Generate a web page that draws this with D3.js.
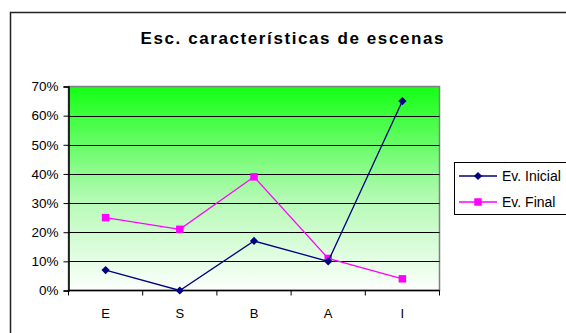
<!DOCTYPE html>
<html>
<head>
<meta charset="utf-8">
<script src="https://cdn.jsdelivr.net/npm/d3@7"></script>
<style>
  html, body { margin: 0; padding: 0; background: #fff; }
  svg { display: block; font-family: "Liberation Sans", Arial, sans-serif; }
</style>
</head>
<body>
<svg id="chart" width="566" height="333"></svg>
<script>
// Chart data
const categories = ["E", "S", "B", "A", "I"];
const evInicial = [0.07, 0.00, 0.17, 0.10, 0.65];
const evFinal = [0.25, 0.21, 0.39, 0.11, 0.04];
const yTicks = [0, 0.1, 0.2, 0.3, 0.4, 0.5, 0.6, 0.7];
const seriesNames = ["Ev. Inicial", "Ev. Final"];
const seriesColors = ["#000080", "#ff00ff"];

const svg = d3.select("#chart");

// Outer chart frame (continues past the right and bottom edges)
svg.append("rect")
  .attr("x", 10.5).attr("y", 12.5)
  .attr("width", 600).attr("height", 400)
  .attr("fill", "#fff").attr("stroke", "#222").attr("stroke-width", 1.5);

// Title
svg.append("text")
  .attr("x", 292).attr("y", 44)
  .attr("text-anchor", "middle")
  .attr("font-size", 17).attr("font-weight", "bold")
  .attr("textLength", 303).attr("lengthAdjust", "spacing")
  .attr("fill", "#000")
  .text("Esc. características de escenas");

const plot = { left: 68.5, right: 439.5, top: 86.5, bottom: 290.5 };

const x = d3.scaleBand().domain(categories).range([plot.left, plot.right]);
const y = d3.scaleLinear().domain([0, 0.7]).range([plot.bottom, plot.top]);

// Background gradient of the plot area
const defs = svg.append("defs");
const grad = defs.append("linearGradient")
  .attr("id", "bg").attr("x1", 0).attr("y1", 0).attr("x2", 0).attr("y2", 1);
grad.append("stop").attr("offset", "0%").attr("stop-color", "#14ff14");
grad.append("stop").attr("offset", "55%").attr("stop-color", "#b4fab4");
grad.append("stop").attr("offset", "100%").attr("stop-color", "#fcfffc");

svg.append("rect")
  .attr("x", plot.left).attr("y", plot.top)
  .attr("width", plot.right - plot.left).attr("height", plot.bottom - plot.top)
  .attr("fill", "url(#bg)")
  .attr("stroke", "#808080").attr("stroke-width", 1.5);

// Horizontal gridlines
svg.append("g").selectAll("line")
  .data(yTicks.filter(d => d > 0 && d < 0.7))
  .join("line")
  .attr("x1", plot.left).attr("x2", plot.right)
  .attr("y1", d => Math.round(y(d)) + 0.5).attr("y2", d => Math.round(y(d)) + 0.5)
  .attr("stroke", "#000").attr("stroke-width", 1);

// Y axis
const yAxis = d3.axisLeft(y).tickValues(yTicks)
  .tickFormat(d3.format(".0%")).tickSize(5).tickPadding(5);
const gy = svg.append("g").attr("transform", `translate(${plot.left},0)`).call(yAxis);
gy.select(".domain").attr("stroke", "#000").attr("stroke-width", 1.5);
gy.selectAll(".tick line").attr("stroke", "#000");
gy.selectAll(".tick text").attr("font-size", 13.5).attr("fill", "#000")
  .attr("font-family", "Liberation Sans, Arial, sans-serif");

// X axis with ticks between categories
const gx = svg.append("g").attr("transform", `translate(0,${plot.bottom})`);
gx.append("line")
  .attr("x1", plot.left).attr("x2", plot.right)
  .attr("y1", 0).attr("y2", 0)
  .attr("stroke", "#000").attr("stroke-width", 1.5);
const boundaries = categories.map(c => x(c)).concat([x(categories[categories.length - 1]) + x.bandwidth()]);
gx.selectAll("line.tk").data(boundaries).join("line").attr("class", "tk")
  .attr("x1", d => d).attr("x2", d => d).attr("y1", 0).attr("y2", 5)
  .attr("stroke", "#000");
gx.selectAll("text").data(categories).join("text")
  .attr("x", d => x(d) + x.bandwidth() / 2).attr("y", 27)
  .attr("text-anchor", "middle").attr("font-size", 13).attr("fill", "#000")
  .text(d => d);

const cx = d => x(d) + x.bandwidth() / 2;
const line = d3.line().x((d, i) => cx(categories[i])).y(d => y(d));

// Diamond = square turned 45 degrees
const diamond = d3.symbol().type(d3.symbolSquare).size(34);
const square = d3.symbol().type(d3.symbolSquare).size(56);
const rot = [45, 0];

function drawSeries(values, color, sym, r) {
  svg.append("path").datum(values)
    .attr("d", line).attr("fill", "none")
    .attr("stroke", color).attr("stroke-width", 1.3);
  svg.append("g").selectAll("path").data(values).join("path")
    .attr("transform", (d, i) => `translate(${cx(categories[i])},${y(d)}) rotate(${r})`)
    .attr("d", sym).attr("fill", color);
}
drawSeries(evFinal, seriesColors[1], square, rot[1]);
drawSeries(evInicial, seriesColors[0], diamond, rot[0]);

// Legend
const lg = svg.append("g");
lg.append("rect")
  .attr("x", 454.5).attr("y", 162.5).attr("width", 130).attr("height", 52)
  .attr("fill", "#fff").attr("stroke", "#000").attr("stroke-width", 1);
const syms = [diamond, square];
seriesNames.forEach((name, i) => {
  const yy = 176 + i * 26;
  lg.append("line").attr("x1", 459).attr("x2", 497).attr("y1", yy).attr("y2", yy)
    .attr("stroke", seriesColors[i]).attr("stroke-width", 1.3);
  lg.append("path").attr("transform", `translate(478,${yy}) rotate(${rot[i]})`)
    .attr("d", syms[i]).attr("fill", seriesColors[i]);
  lg.append("text").attr("x", 502).attr("y", yy + 5)
    .attr("font-size", 14).attr("fill", "#000").text(name);
});
</script>
</body>
</html>
